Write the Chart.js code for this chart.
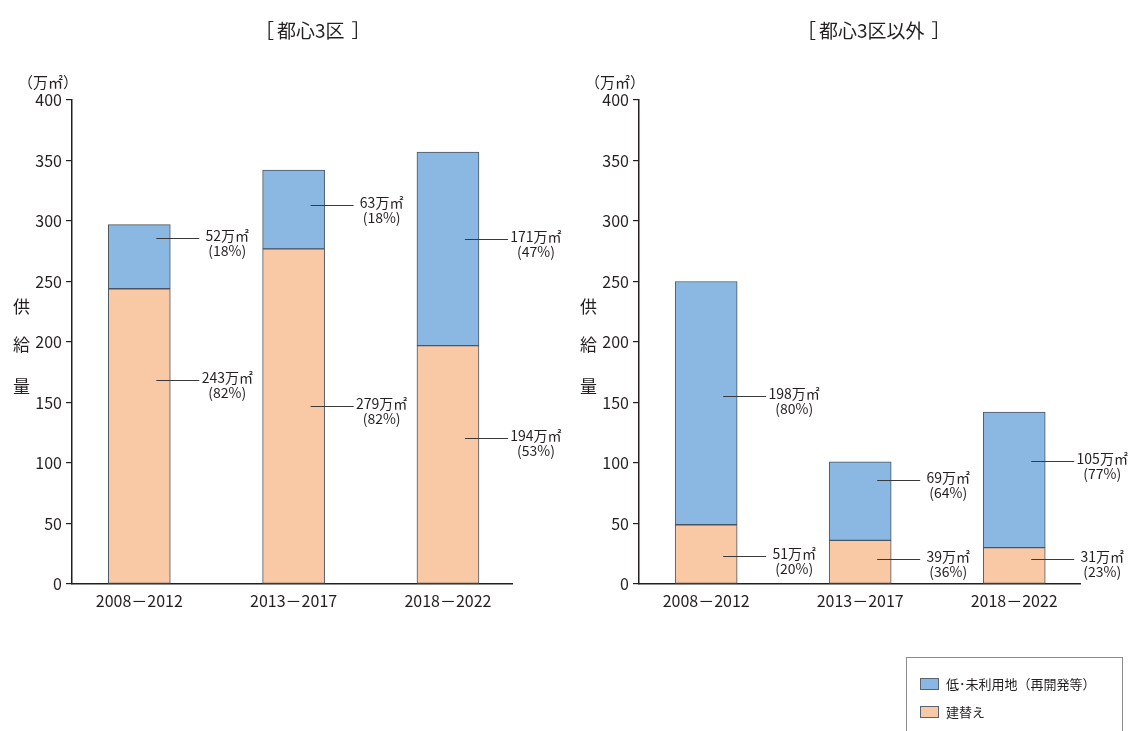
<!DOCTYPE html>
<html><head><meta charset="utf-8">
<script src="https://cdn.jsdelivr.net/npm/chart.js@4"></script>
<style>
html,body{margin:0;padding:0;background:#fff;width:1132px;height:731px;overflow:hidden;font-family:"Noto Sans CJK JP","Noto Sans",sans-serif;color:#231f20;}
.abs{position:absolute;white-space:nowrap;}
.wrap{position:absolute;top:0;width:566px;height:731px;}
.title{font-size:19px;line-height:20px;}
.title .bl{margin-right:3px;}
.title .br{margin-left:7px;}
.unit{font-size:15px;line-height:18px;}
.vt{font-size:17px;line-height:18px;}
.legend{position:absolute;left:906px;top:657px;width:215px;height:80px;border:1px solid #8c8c8c;border-bottom:none;font-size:13px;}
.sw{position:absolute;width:17px;height:10px;border:1px solid #5a6470;}
</style></head>
<body>
<div class="wrap" style="left:0"><canvas id="c1" width="566" height="731"></canvas></div>
<div class="wrap" style="left:566px"><canvas id="c2" width="566" height="731"></canvas></div>

<div class="abs title" style="left:255px;top:20px;"><span class="bl">［</span>都心3区<span class="br">］</span></div>
<div class="abs title" style="left:797px;top:20px;"><span class="bl">［</span>都心3区以外<span class="br">］</span></div>

<div class="abs unit" style="left:18px;top:73px;">（万㎡）</div>
<div class="abs unit" style="left:585px;top:73px;">（万㎡）</div>

<div class="abs vt" style="left:13px;top:297px;">供</div>
<div class="abs vt" style="left:13px;top:335px;">給</div>
<div class="abs vt" style="left:13px;top:377px;">量</div>
<div class="abs vt" style="left:580px;top:297px;">供</div>
<div class="abs vt" style="left:580px;top:335px;">給</div>
<div class="abs vt" style="left:580px;top:377px;">量</div>

<div class="legend">
  <div class="sw" style="left:13px;top:20px;background:#8ab8e2;"></div>
  <div class="abs" style="left:39px;top:16px;">低･未利用地（再開発等）</div>
  <div class="sw" style="left:13px;top:48px;background:#f9c9a6;"></div>
  <div class="abs" style="left:39px;top:44px;">建替え</div>
</div>

<script>
const categories = ["2008－2012", "2013－2017", "2018－2022"];
const seriesNames = ["低･未利用地（再開発等）", "建替え"];

// 都心3区
const centralRebuild = [244, 277, 197];
const centralVacant = [53, 65, 160];
const centralRebuildLabels = ["243万㎡", "279万㎡", "194万㎡"];
const centralRebuildPct = ["(82%)", "(82%)", "(53%)"];
const centralVacantLabels = ["52万㎡", "63万㎡", "171万㎡"];
const centralVacantPct = ["(18%)", "(18%)", "(47%)"];
const centralRebuildAt = [169, 147, 121];
const centralVacantAt = [286, 313, 285];

// 都心3区以外
const otherRebuild = [49, 36, 30];
const otherVacant = [201, 65, 112];
const otherRebuildLabels = ["51万㎡", "39万㎡", "31万㎡"];
const otherRebuildPct = ["(20%)", "(36%)", "(23%)"];
const otherVacantLabels = ["198万㎡", "69万㎡", "105万㎡"];
const otherVacantPct = ["(80%)", "(64%)", "(77%)"];
const otherRebuildAt = [23, 21, 21];
const otherVacantAt = [155, 86, 102];

const yTicks = [0, 50, 100, 150, 200, 250, 300, 350, 400];

const INK = '#231f20';
const BLUE = '#8ab8e2';
const ORANGE = '#f9c9a6';
const EDGE = '#4a5560';
const FONT = '"Noto Sans CJK JP","Noto Sans",sans-serif';

function callouts(groups) {
  return {
    id: 'callouts',
    afterDatasetsDraw(chart) {
      const ctx = chart.ctx, xs = chart.scales.x, ys = chart.scales.y;
      ctx.save();
      ctx.strokeStyle = '#3a3a3a';
      ctx.lineWidth = 1;
      ctx.fillStyle = INK;
      ctx.font = '14px ' + FONT;
      ctx.textAlign = 'center';
      ctx.textBaseline = 'middle';
      groups.forEach(g => {
        g.at.forEach((v, i) => {
          const x = xs.getPixelForValue(i);
          const y = Math.round(ys.getPixelForValue(v)) + 0.5;
          ctx.beginPath();
          ctx.moveTo(x + 17, y);
          ctx.lineTo(x + 60, y);
          ctx.stroke();
          ctx.fillText(g.labels[i], x + 88, y - 3);
          ctx.fillText(g.pct[i], x + 88, y + 12);
        });
      });
      ctx.restore();
    }
  };
}

function makeChart(id, rebuild, vacant, xmin, xmax, yWidth, padL, padR, plugin) {
  const toPts = arr => arr.map((v, i) => ({x: i, y: v}));
  return new Chart(document.getElementById(id), {
    type: 'bar',
    data: {
      datasets: [
        {label: seriesNames[1], data: toPts(rebuild), backgroundColor: ORANGE, borderColor: EDGE, borderWidth: 1, barThickness: 62, borderSkipped: false},
        {label: seriesNames[0], data: toPts(vacant), backgroundColor: BLUE, borderColor: EDGE, borderWidth: 1, barThickness: 62, borderSkipped: false}
      ]
    },
    options: {
      responsive: false,
      animation: false,
      devicePixelRatio: 1,
      layout: {padding: {left: padL, right: padR, top: 100, bottom: 107}},
      plugins: {legend: {display: false}, tooltip: {enabled: false}},
      scales: {
        x: {
          type: 'linear', stacked: true, min: xmin, max: xmax, offset: false,
          afterBuildTicks: s => { s.ticks = categories.map((c, i) => ({value: i})); },
          afterFit: s => { s.height = 40; },
          grid: {display: true, drawOnChartArea: false, drawTicks: false},
          border: {display: true, color: INK, width: 1.5},
          ticks: {autoSkip: false, maxRotation: 0, padding: 7, color: INK, font: {family: FONT, size: 16},
                  callback: v => categories[v] ?? ''}
        },
        y: {
          stacked: true, min: 0, max: 400,
          afterBuildTicks: s => { s.ticks = yTicks.map(v => ({value: v})); },
          afterFit: s => { s.width = yWidth; },
          grid: {display: true, drawOnChartArea: false, drawTicks: true, tickLength: 6, color: INK, lineWidth: 1.2},
          border: {display: true, color: INK, width: 1.5},
          ticks: {padding: 4, color: INK, font: {family: FONT, size: 16}}
        }
      }
    },
    plugins: [plugin]
  });
}

makeChart('c1', centralRebuild, centralVacant, -0.436, 2.415, 72, 0, 54,
  callouts([
    {at: centralVacantAt, labels: centralVacantLabels, pct: centralVacantPct},
    {at: centralRebuildAt, labels: centralRebuildLabels, pct: centralRebuildPct}
  ]));
makeChart('c2', otherRebuild, otherVacant, -0.436, 2.427, 73, 0, 52,
  callouts([
    {at: otherVacantAt, labels: otherVacantLabels, pct: otherVacantPct},
    {at: otherRebuildAt, labels: otherRebuildLabels, pct: otherRebuildPct}
  ]));
</script>
</body></html>
